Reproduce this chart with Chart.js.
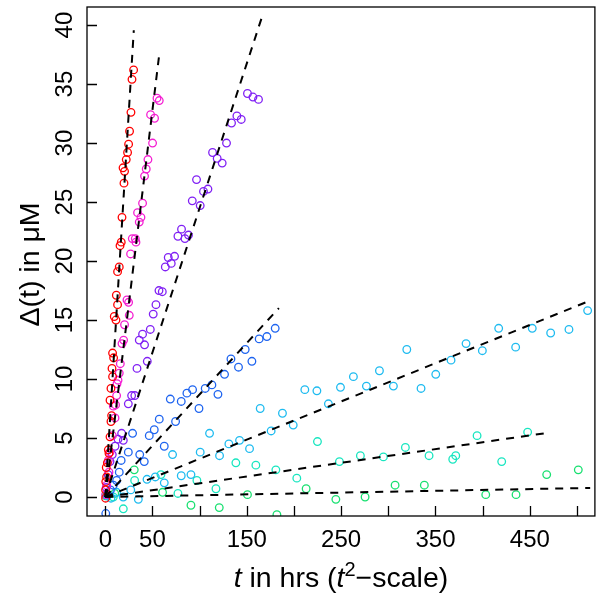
<!DOCTYPE html>
<html>
<head>
<meta charset="utf-8">
<script src="https://cdn.jsdelivr.net/npm/chart.js@4"></script>
<style>
  body { margin: 0; background: #fff; }
  canvas { display: block; }
</style>
</head>
<body>
<canvas id="chart" width="600" height="598"></canvas>
<script>
// axis ticks
const yTicks = [0, 5, 10, 15, 20, 25, 30, 35, 40];
const xTickMarks = [0, 50, 100, 150, 200, 250, 300, 350, 400, 450, 500];
const xTickLabels = [0, 50, 150, 250, 350, 450];

// series: t in hrs, delta in uM
const redT = [0.3, 0.3, 0.5, 1.0, 1.4, 2.2, 3.2, 3.9, 5.0, 6.0, 6.7, 5.0, 6.0, 7.7, 7.1, 8.8, 7.7, 11.3, 9.5, 13.0, 11.7, 13.0, 14.8, 15.6, 16.9, 17.7, 19.8, 20.4, 18.8, 22.2, 23.6, 24.7, 25.7, 27.2, 28.3, 30.0];
const redD = [-0.1, 0.6, 1.3, 2.5, 1.7, 2.9, 4.0, 3.7, 5.1, 6.4, 6.9, 8.2, 9.2, 10.2, 10.9, 11.8, 12.2, 15.0, 15.3, 16.3, 17.1, 19.1, 19.5, 21.3, 21.6, 23.7, 26.6, 27.6, 27.9, 28.6, 29.2, 29.9, 31.0, 32.6, 35.4, 36.2];

const magentaT = [0.3, 1.5, 3.9, 3.2, 5.0, 7.5, 10.3, 8.5, 10.9, 12.0, 12.4, 13.5, 14.8, 15.9, 17.7, 19.4, 20.4, 25.4, 24.7, 23.0, 26.8, 28.6, 31.8, 32.5, 36.0, 37.8, 34.2, 39.5, 41.6, 43.4, 45.2, 50.1, 52.2, 48.0, 57.2, 54.8];
const magentaD = [0.2, 1.0, 2.1, 3.1, 3.8, 5.2, 6.7, 7.7, 7.8, 8.6, 9.6, 9.9, 10.5, 11.3, 13.0, 13.3, 14.6, 15.4, 16.5, 16.7, 20.6, 21.9, 21.9, 21.6, 23.3, 23.7, 24.1, 24.9, 27.2, 27.8, 28.6, 30.0, 32.1, 32.4, 33.6, 33.8];

const purpleT = [1.0, 3.0, 5.0, 7.4, 10.3, 13.5, 17.3, 19.1, 24.4, 27.9, 31.3, 33.6, 36.0, 39.5, 41.6, 44.5, 47.7, 50.8, 53.7, 56.9, 60.4, 63.6, 66.7, 69.9, 73.4, 77.0, 80.8, 84.4, 88.2, 92.2, 96.7, 100.6, 104.1, 108.8, 113.7, 118.6, 123.9, 128.5, 133.8, 139.5, 144.1, 150.7, 156.5, 162.4];
const purpleD = [0.8, 1.9, 3.0, 3.6, 4.3, 4.9, 5.4, 4.8, 7.9, 8.6, 8.6, 10.9, 13.3, 13.8, 12.9, 11.5, 14.2, 15.5, 16.3, 17.5, 17.4, 19.5, 20.3, 19.8, 20.4, 22.1, 22.7, 21.9, 22.2, 25.1, 26.9, 24.7, 25.9, 26.1, 29.2, 28.7, 28.3, 30.0, 31.7, 32.3, 32.0, 34.2, 33.9, 33.7];

const blueT = [0.5, 2.4, 5.5, 8.5, 12.0, 14.8, 16.8, 24.4, 28.9, 36.5, 41.3, 46.6, 51.9, 57.2, 62.5, 68.9, 74.5, 80.5, 86.5, 92.5, 99.3, 105.9, 113.0, 119.4, 126.4, 133.2, 141.2, 148.3, 155.4, 163.1, 171.3, 180.1];
const blueD = [-1.4, 0.2, 0.6, 1.0, 1.4, 2.1, 3.1, 3.8, 5.4, 3.6, 3.0, 5.2, 5.7, 6.6, 4.3, 8.3, 6.4, 8.1, 8.8, 9.1, 7.5, 9.2, 9.5, 8.7, 10.4, 11.7, 11.0, 12.5, 11.5, 13.4, 13.6, 14.3];

const skyT = [2, 6, 12, 19, 27, 35, 44.2, 53.0, 62.5, 71.3, 80.5, 90.8, 100.6, 110.5, 121.1, 131.0, 142.3, 152.9, 164.2, 175.8, 187.8, 199.2, 211.5, 224.3, 236.5, 249.3, 263.0, 276.8, 290.6, 305.4, 319.6, 334.7, 350.3, 366.5, 382.4, 399.7, 417.0, 435.0, 452.6, 472.1, 491.5, 511.3];
const skyD = [0.1, -0.1, 0.4, 0.0, 0.6, -0.2, 1.5, 1.7, 1.2, 3.6, 1.8, 1.9, 3.8, 5.4, 3.5, 4.5, 4.8, 4.1, 7.5, 5.6, 7.1, 6.1, 9.1, 9.0, 7.9, 9.3, 10.2, 9.4, 10.7, 9.4, 12.5, 9.2, 10.4, 11.6, 13.0, 12.4, 14.3, 12.7, 14.3, 13.9, 14.2, 15.8];

const aquaT = [2, 8.5, 19.1, 31.1, 59.0, 77.0, 97.1, 117.3, 138.4, 159.6, 180.8, 203.0, 224.9, 248.2, 270.4, 294.8, 318.1, 343.2, 368.3, 371.5, 394.1, 420.2, 447.7];
const aquaD = [0.1, 0.0, -1.0, 1.4, 1.9, 0.3, 1.4, 0.7, 2.9, 2.7, 2.3, 1.6, 4.7, 3.0, 3.5, 3.4, 4.2, 3.5, 3.2, 3.5, 5.2, 3.0, 5.5];

const greenT = [0.5, 10, 30.7, 60.7, 90.8, 120.8, 150.7, 181.9, 212.9, 244.4, 275.4, 307.2, 338.2, 403.3, 435.4, 467.9, 501.4];
const greenD = [0.1, 0.3, 2.3, 0.4, -0.7, -0.9, 0.2, -1.5, 0.7, -0.2, 0.0, 1.0, 1.0, 0.2, 0.2, 1.9, 2.3];

// fitted lines through the origin: slope and last t
const fitSlopes = [1.31, 0.656, 0.245, 0.087, 0.0324, 0.0116, 0.0015];
const fitEnds = [30.2, 57.5, 166, 184, 514, 468, 514];

const colors = ['#FF0000', '#F41ED2', '#8020F4', '#1E64F0', '#1EBBF0', '#18E6C0', '#18E070'];
const seriesT = [redT, magentaT, purpleT, blueT, skyT, aquaT, greenT];
const seriesD = [redD, magentaD, purpleD, blueD, skyD, aquaD, greenD];

const FONT = '"Liberation Sans", Arial, Helvetica, sans-serif';

function toPoints(xs, ys) {
    return xs.map((x, i) => ({ x: x, y: ys[i] }));
}

const datasets = [];
fitSlopes.forEach((s, i) => {
    datasets.push({
        data: [{ x: 0, y: 0 }, { x: fitEnds[i], y: s * fitEnds[i] }],
        showLine: true,
        borderColor: '#000',
        borderWidth: 2,
        borderDash: [8, 7],
        pointRadius: 0,
        fill: false
    });
});
seriesT.forEach((t, i) => {
    datasets.push({
        data: toPoints(t, seriesD[i]),
        showLine: false,
        borderColor: colors[i],
        backgroundColor: 'rgba(0,0,0,0)',
        pointRadius: 3.8,
        pointBorderWidth: 1.3,
        pointHoverRadius: 3.8
    });
});

// box, inward ticks, rotated y labels and the titles
const framePlugin = {
    id: 'frame',
    afterDraw(chart) {
        const ctx = chart.ctx;
        const area = chart.chartArea;
        const xs = chart.scales.x, ys = chart.scales.y;
        ctx.save();
        ctx.strokeStyle = '#000';
        ctx.fillStyle = '#000';
        ctx.lineWidth = 1.3;
        ctx.strokeRect(area.left, area.top, area.right - area.left, area.bottom - area.top);

        ctx.beginPath();
        yTicks.forEach(v => {
            const py = Math.round(ys.getPixelForValue(v)) + 0.5;
            ctx.moveTo(area.left, py);
            ctx.lineTo(area.left + 10, py);
        });
        xTickMarks.forEach(v => {
            const px = Math.round(xs.getPixelForValue(v)) + 0.5;
            ctx.moveTo(px, area.bottom);
            ctx.lineTo(px, area.bottom - 10);
        });
        ctx.stroke();

        ctx.font = '24px ' + FONT;
        ctx.textAlign = 'center';
        ctx.textBaseline = 'alphabetic';
        xTickLabels.forEach(v => {
            ctx.fillText(String(v), xs.getPixelForValue(v), 547);
        });
        yTicks.forEach(v => {
            ctx.save();
            ctx.translate(72, ys.getPixelForValue(v));
            ctx.rotate(-Math.PI / 2);
            ctx.fillText(String(v), 0, 0);
            ctx.restore();
        });

        // y title
        ctx.font = '28.5px ' + FONT;
        ctx.save();
        ctx.translate(39, (area.top + area.bottom) / 2 + 3);
        ctx.rotate(-Math.PI / 2);
        ctx.fillText('\u0394(t) in \u03BCM', 0, 0);
        ctx.restore();

        // x title with italic t and superscript 2
        const parts = [
            { text: 't', font: 'italic 28.5px ' + FONT, dy: 0 },
            { text: ' in hrs (', font: '28.5px ' + FONT, dy: 0 },
            { text: 't', font: 'italic 28.5px ' + FONT, dy: 0 },
            { text: '2', font: '20px ' + FONT, dy: -11 },
            { text: '\u2212scale)', font: '28.5px ' + FONT, dy: 0 }
        ];
        let total = 0;
        parts.forEach(p => { ctx.font = p.font; p.w = ctx.measureText(p.text).width; total += p.w; });
        let x = (area.left + area.right) / 2 - total / 2;
        ctx.textAlign = 'left';
        parts.forEach(p => {
            ctx.font = p.font;
            ctx.fillText(p.text, x, 587 + p.dy);
            x += p.w;
        });
        ctx.restore();
    }
};

new Chart(document.getElementById('chart'), {
    type: 'scatter',
    data: { datasets: datasets },
    options: {
        responsive: false,
        animation: false,
        devicePixelRatio: 1,
        layout: { padding: { left: 87, right: 5, top: 7, bottom: 82 } },
        plugins: {
            legend: { display: false },
            tooltip: { enabled: false }
        },
        scales: {
            x: { type: 'linear', display: false, min: -19.4, max: 519 },
            y: { type: 'linear', display: false, min: -1.61, max: 41.53 }
        }
    },
    plugins: [framePlugin]
});
</script>
</body>
</html>
